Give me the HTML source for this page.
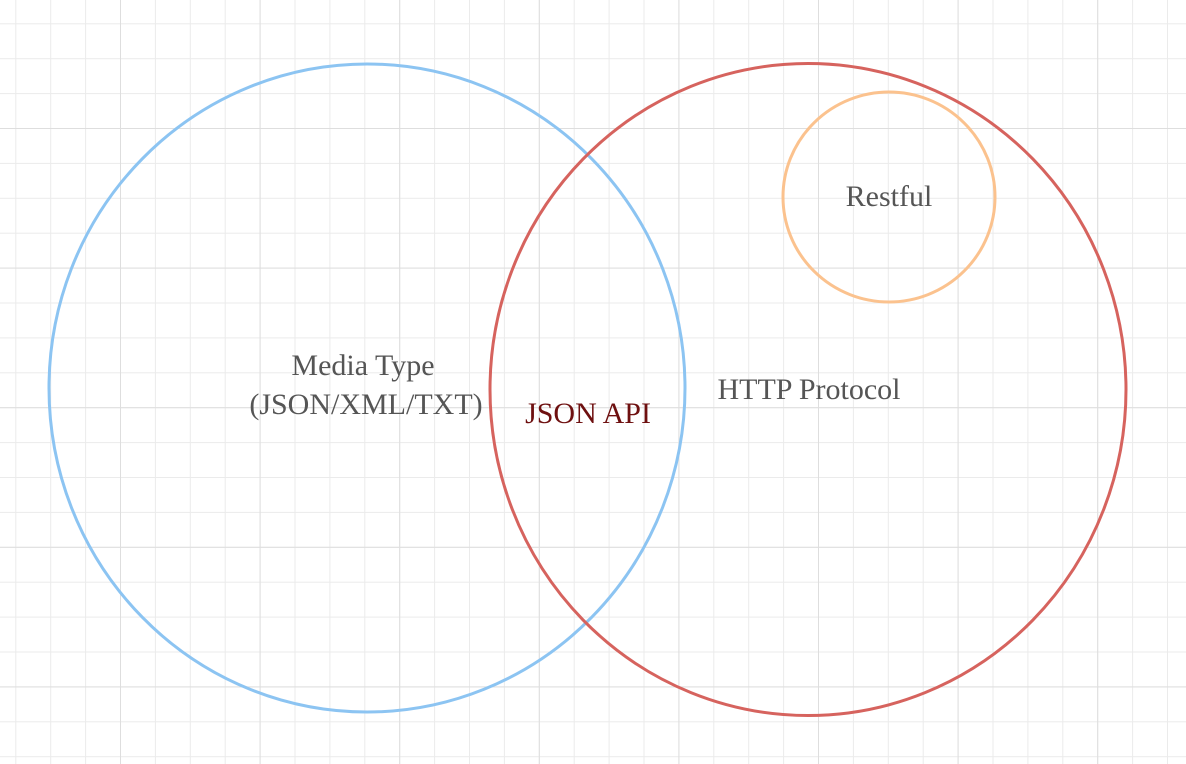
<!DOCTYPE html>
<html><head><meta charset="utf-8"><style>
html,body{margin:0;padding:0;background:#fff;}
svg{display:block;}
text{font-family:"Liberation Serif",serif;font-size:30px;fill:#555;}
</style></head><body>
<svg width="1186" height="764" viewBox="0 0 1186 764" xmlns="http://www.w3.org/2000/svg">
<defs>
<pattern id="minor" x="15.3" y="23.3" width="34.9" height="34.9" patternUnits="userSpaceOnUse">
<path d="M0 0H34.9M0 0V34.9" stroke="#ebebeb" stroke-width="2" fill="none"/>
</pattern>
<pattern id="major" x="120" y="128" width="139.6" height="139.6" patternUnits="userSpaceOnUse">
<path d="M0 0H139.6M0 0V139.6" stroke="#dedede" stroke-width="2" fill="none"/>
</pattern>
</defs>
<rect width="1186" height="764" fill="url(#minor)"/>
<rect width="1186" height="764" fill="url(#major)"/>
<ellipse cx="367" cy="388" rx="318" ry="324" fill="none" stroke="#8cc4f2" stroke-width="3"/>
<ellipse cx="808" cy="389.5" rx="318" ry="326" fill="none" stroke="#d6635e" stroke-width="3"/>
<ellipse cx="889" cy="197" rx="106" ry="105" fill="none" stroke="#fbc28e" stroke-width="3"/>
<text x="363" y="375" text-anchor="middle">Media Type</text>
<text x="366" y="414" text-anchor="middle">(JSON/XML/TXT)</text>
<text x="588" y="423" text-anchor="middle" style="fill:#6e1010">JSON API</text>
<text x="809" y="399" text-anchor="middle">HTTP Protocol</text>
<text x="889" y="206" text-anchor="middle">Restful</text>
</svg>
</body></html>
